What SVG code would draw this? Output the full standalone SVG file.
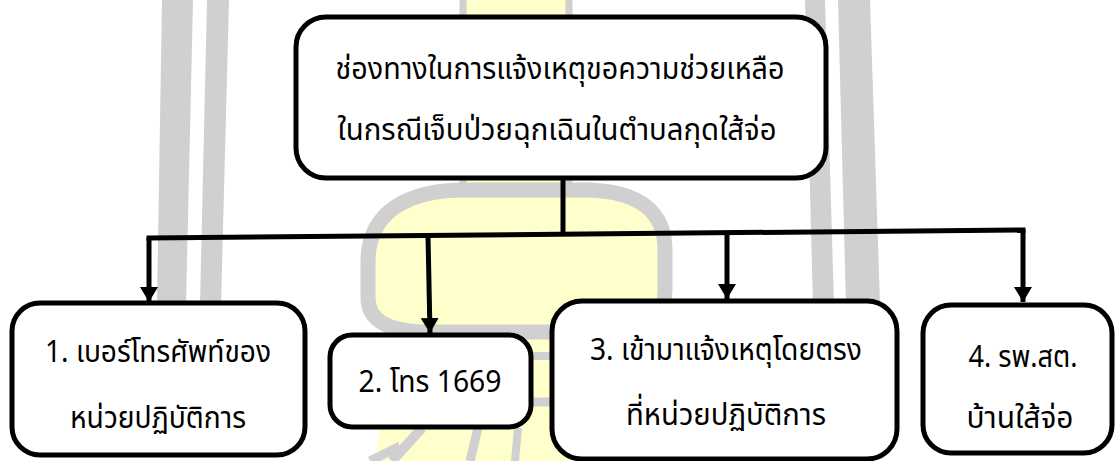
<svg xmlns="http://www.w3.org/2000/svg" width="1118" height="461" viewBox="0 0 1118 461">
  <style>
    .wm-gray { fill: #d0d0d0; }
    .wm-yellow { fill: #ffffcc; }
    .wm-line { stroke: #d0d0d0; fill: none; }
    .box { fill: #ffffff; stroke: #000000; stroke-width: 5; }
    .label { font-family: "Noto Sans Thai", "Noto Sans", "DejaVu Sans", sans-serif; font-size: 31px; fill: #000000; text-anchor: middle; }
    .conn { stroke: #000000; stroke-width: 5; fill: none; }
  </style>
  <defs>
    <marker id="arrow" markerUnits="userSpaceOnUse" viewBox="0 0 15 18" refX="15" refY="9" markerWidth="15" markerHeight="18" orient="auto">
      <path d="M0,0 L15,9 L0,18 Z" fill="#000000"/>
    </marker>
  </defs>

  <rect x="0" y="0" width="1118" height="461" fill="#ffffff"/>

  <g id="watermark">
    <polygon class="wm-gray" points="162,0 193,0 186,305 157,305"/>
    <polygon class="wm-gray" points="207,0 229,0 221,305 200,305"/>
    <polygon class="wm-gray" points="805,0 825,0 834,305 813,305"/>
    <polygon class="wm-gray" points="838,0 870,0 880,305 846,305"/>
    <rect class="wm-yellow" x="466" y="-5" width="100" height="200"/>
    <line class="wm-line" x1="463" y1="-5" x2="463" y2="195" stroke-width="7"/>
    <line class="wm-line" x1="569" y1="-5" x2="569" y2="195" stroke-width="7"/>
    <polygon class="wm-yellow" points="395,330 680,330 700,461 375,461"/>
    <path class="wm-yellow" d="M460,190 C390,192 368,225 368,262 L368,298 C368,322 390,330 420,332 L620,332 C655,330 665,312 665,290 L665,250 C665,212 640,192 590,190 Z" stroke="#d0d0d0" stroke-width="15"/>
    <line class="wm-line" x1="525" y1="356" x2="560" y2="356" stroke-width="8"/>
    <line class="wm-line" x1="525" y1="402" x2="560" y2="402" stroke-width="9"/>
    <line class="wm-line" x1="392" y1="461" x2="422" y2="428" stroke-width="10"/>
    <line class="wm-line" x1="470" y1="461" x2="478" y2="428" stroke-width="9"/>
    <line class="wm-line" x1="515" y1="461" x2="518" y2="428" stroke-width="8"/>
    <line class="wm-line" x1="370" y1="461" x2="400" y2="446" stroke-width="9"/>
  </g>

  <g id="connectors">
    <line class="conn" x1="563" y1="178" x2="563" y2="234.5"/>
    <line class="conn" x1="149" y1="238" x2="1023" y2="230" stroke-linecap="square"/>
    <line class="conn" x1="149" y1="238" x2="149" y2="302" marker-end="url(#arrow)"/>
    <line class="conn" x1="428" y1="235.4" x2="430" y2="333" marker-end="url(#arrow)"/>
    <line class="conn" x1="727" y1="232.7" x2="727" y2="299" marker-end="url(#arrow)"/>
    <line class="conn" x1="1023" y1="230" x2="1023" y2="302" marker-end="url(#arrow)"/>
  </g>

  <g id="node-main">
    <rect class="box" x="296" y="17" width="530" height="161" rx="30" ry="30"/>
    <text class="label" x="560" y="79" textLength="449" lengthAdjust="spacingAndGlyphs">ช่องทางในการแจ้งเหตุขอความช่วยเหลือ</text>
    <text class="label" x="557" y="140" textLength="439" lengthAdjust="spacingAndGlyphs">ในกรณีเจ็บป่วยฉุกเฉินในตำบลกุดใส้จ่อ</text>
  </g>

  <g id="node-1">
    <rect class="box" x="12" y="303" width="293" height="152" rx="28" ry="28"/>
    <text class="label" x="158" y="362" textLength="226" lengthAdjust="spacingAndGlyphs">1. เบอร์โทรศัพท์ของ</text>
    <text class="label" x="158" y="428" textLength="176" lengthAdjust="spacingAndGlyphs">หน่วยปฏิบัติการ</text>
  </g>

  <g id="node-2">
    <rect class="box" x="330" y="335" width="201" height="92" rx="22" ry="22"/>
    <text class="label" x="430" y="392" textLength="143" lengthAdjust="spacingAndGlyphs">2. โทร 1669</text>
  </g>

  <g id="node-3">
    <rect class="box" x="552" y="301" width="345" height="158" rx="30" ry="30"/>
    <text class="label" x="726" y="360" textLength="272" lengthAdjust="spacingAndGlyphs">3. เข้ามาแจ้งเหตุโดยตรง</text>
    <text class="label" x="726" y="425" textLength="200" lengthAdjust="spacingAndGlyphs">ที่หน่วยปฏิบัติการ</text>
  </g>

  <g id="node-4">
    <rect class="box" x="923" y="305" width="189" height="148" rx="28" ry="28"/>
    <text class="label" x="1023" y="367" textLength="109" lengthAdjust="spacingAndGlyphs">4. รพ.สต.</text>
    <text class="label" x="1020" y="428" textLength="107" lengthAdjust="spacingAndGlyphs">บ้านใส้จ่อ</text>
  </g>
</svg>
